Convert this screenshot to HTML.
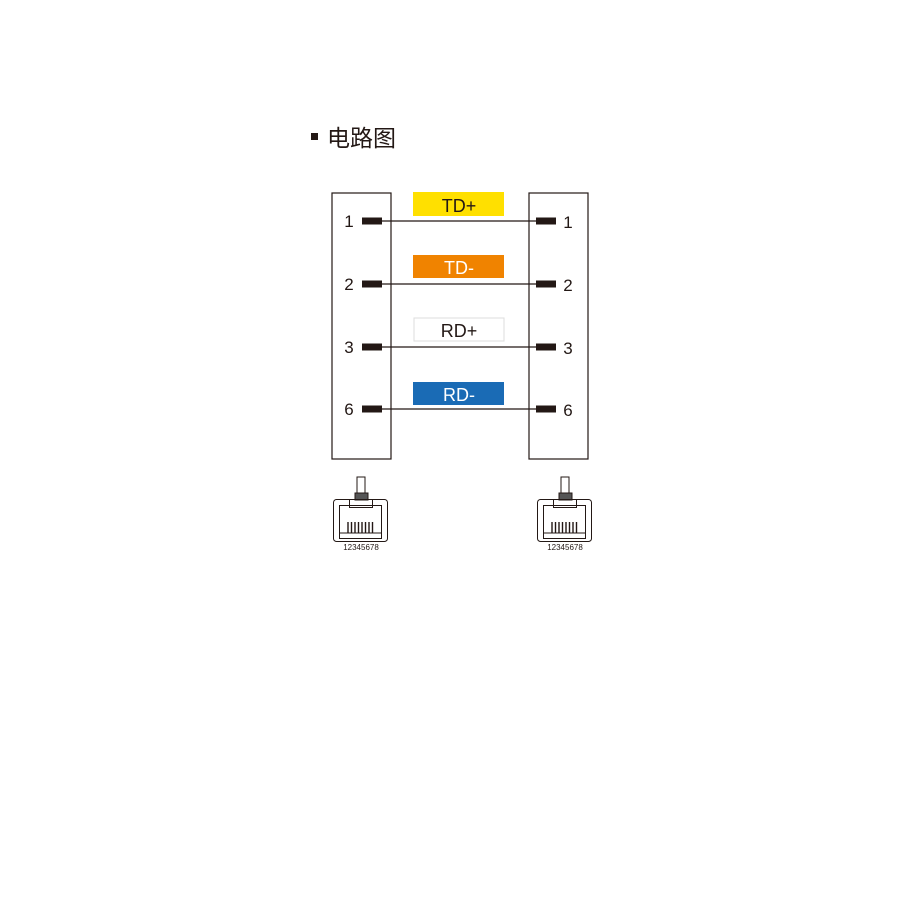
<!DOCTYPE html>
<html><head><meta charset="utf-8"><style>html,body{margin:0;padding:0;background:#fff;width:900px;height:900px;overflow:hidden}</style></head>
<body>
<svg width="900" height="900" xmlns="http://www.w3.org/2000/svg" font-family="Liberation Sans, Arial, sans-serif">
<rect x="311" y="133" width="7" height="7" fill="#231815"/>
<text x="327" y="146" font-size="23" fill="#231815" font-family="Liberation Sans, Noto Sans CJK SC, sans-serif">电路图</text>
<rect x="332" y="193" width="59" height="266" fill="none" stroke="#231815" stroke-width="1.2"/>
<rect x="529" y="193" width="59" height="266" fill="none" stroke="#231815" stroke-width="1.2"/>
<g fill="#231815">
<rect x="362" y="217.5" width="20" height="7"/><rect x="536" y="217.5" width="20" height="7"/>
<rect x="362" y="280.5" width="20" height="7"/><rect x="536" y="280.5" width="20" height="7"/>
<rect x="362" y="343.5" width="20" height="7"/><rect x="536" y="343.5" width="20" height="7"/>
<rect x="362" y="405.5" width="20" height="7"/><rect x="536" y="405.5" width="20" height="7"/>
</g>
<g stroke="#231815" stroke-width="1.3">
<line x1="382" y1="221" x2="536" y2="221"/><line x1="382" y1="284" x2="536" y2="284"/>
<line x1="382" y1="347" x2="536" y2="347"/><line x1="382" y1="409" x2="536" y2="409"/>
</g>
<g font-size="17" fill="#231815" text-anchor="middle">
<text x="349" y="227">1</text><text x="568" y="228">1</text>
<text x="349" y="290">2</text><text x="568" y="291">2</text>
<text x="349" y="353">3</text><text x="568" y="354">3</text>
<text x="349" y="415">6</text><text x="568" y="416">6</text>
</g>
<rect x="413" y="192" width="91" height="24" fill="#ffe000"/>
<rect x="413" y="255" width="91" height="23" fill="#f08300"/>
<rect x="414" y="318" width="90" height="23" fill="#fff" stroke="#ddd" stroke-width="1"/>
<rect x="413" y="382" width="91" height="23" fill="#1a6bb5"/>
<g font-size="18" text-anchor="middle">
<text x="459" y="212" fill="#231815">TD+</text>
<text x="459" y="274" fill="#fff">TD-</text>
<text x="459" y="337" fill="#231815">RD+</text>
<text x="459" y="401" fill="#fff">RD-</text>
</g>
<g id="c" fill="none" stroke="#231815" stroke-width="1">
<rect x="357" y="477" width="8" height="16"/>
<rect x="355" y="493" width="13" height="7" fill="#555"/>
<rect x="333.5" y="499.5" width="54" height="42" rx="3"/>
<rect x="339.5" y="505.5" width="42" height="33"/>
<rect x="349.5" y="499.5" width="23" height="8"/>
<line x1="339" y1="533" x2="381" y2="533"/>
<g stroke-width="1.4"><line x1="348" y1="522" x2="348" y2="533"/><line x1="351.5" y1="522" x2="351.5" y2="533"/><line x1="355" y1="522" x2="355" y2="533"/><line x1="358.5" y1="522" x2="358.5" y2="533"/><line x1="362" y1="522" x2="362" y2="533"/><line x1="365.5" y1="522" x2="365.5" y2="533"/><line x1="369" y1="522" x2="369" y2="533"/><line x1="372.5" y1="522" x2="372.5" y2="533"/></g>
<text x="361" y="550" font-size="8" fill="#231815" stroke="none" text-anchor="middle">12345678</text>
</g>
<use href="#c" transform="translate(204,0)"/>
</svg>
</body></html>
